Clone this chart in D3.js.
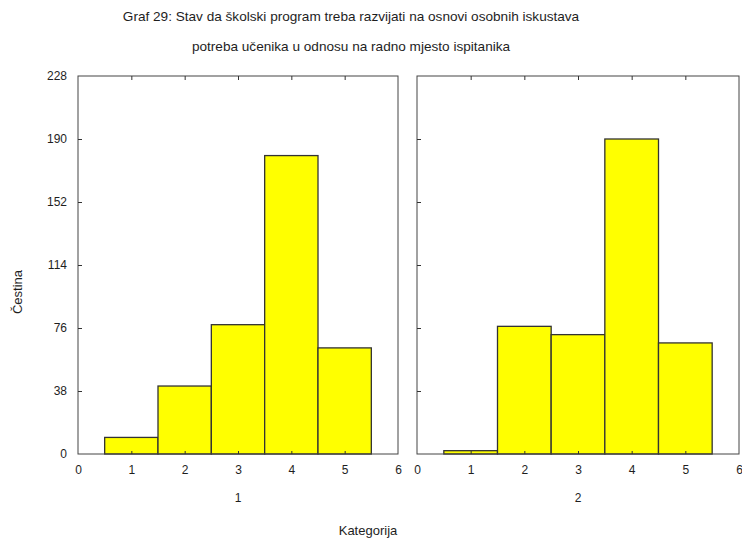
<!DOCTYPE html>
<html lang="hr">
<head>
    <meta charset="UTF-8">
    <title>Graf 29</title>
    <style>
        body { margin: 0; background: #fff; }
        svg text { font-family: "Liberation Sans", Arial, sans-serif; fill: #1e1e1e; }
        .tick line { stroke: #333; }
        .domain { display: none; }
    </style>
</head>
<body>
    <div id="chart"></div>

    <script src="https://d3js.org/d3.v7.min.js"></script>
    <script>
        const w = 742;
        const h = 538;

        const titleLines = ['Graf 29: Stav da školski program treba razvijati na osnovi osobnih iskustava',
                            'potreba učenika u odnosu na radno mjesto ispitanika'];
        const categories = [1, 2, 3, 4, 5];
        const panelNames = ['1', '2'];
        const group1 = [10, 41, 78, 180, 64];
        const group2 = [2, 77, 72, 190, 67];
        const yTicks = [0, 38, 76, 114, 152, 190, 228];
        const xTicks = [0, 1, 2, 3, 4, 5, 6];

        const panels = [
            {name: panelNames[0], values: group1, left: 78, right: 398},
            {name: panelNames[1], values: group2, left: 417, right: 739}
        ];
        const plotTop = 76, plotBottom = 454;

        const svg = d3.select('#chart')
            .append('svg')
            .attr('width', w)
            .attr('height', h);

        svg.selectAll('text.title')
            .data(titleLines)
            .enter()
            .append('text')
            .attr('class', 'title')
            .attr('x', 351)
            .attr('y', (d, i) => 21 + i * 30)
            .attr('text-anchor', 'middle')
            .style('font-size', '13.6px')
            .text(d => d);

        const yScale = d3.scaleLinear()
            .domain([0, 228])
            .range([plotBottom, plotTop]);

        panels.forEach((p, pi) => {
            const xScale = d3.scaleLinear()
                .domain([0, 6])
                .range([p.left, p.right]);

            const g = svg.append('g');

            // bars
            g.selectAll('rect.bar')
                .data(p.values)
                .enter()
                .append('rect')
                .attr('class', 'bar')
                .attr('x', (d, i) => xScale(categories[i] - 0.5))
                .attr('width', (d, i) => xScale(categories[i] + 0.5) - xScale(categories[i] - 0.5))
                .attr('y', d => yScale(d))
                .attr('height', d => yScale(0) - yScale(d))
                .attr('fill', '#ffff00')
                .attr('stroke', '#333')
                .attr('stroke-width', 1.3);

            // frame
            g.append('rect')
                .attr('x', p.left)
                .attr('y', plotTop)
                .attr('width', p.right - p.left)
                .attr('height', plotBottom - plotTop)
                .attr('fill', 'none')
                .attr('stroke', '#444')
                .attr('stroke-width', 1);

            // bottom axis: labels outside, ticks inward
            g.append('g')
                .attr('transform', `translate(0, ${plotBottom})`)
                .call(d3.axisBottom(xScale).tickValues(xTicks).tickSize(0).tickPadding(11).tickFormat(d3.format('d')))
                .selectAll('text')
                .style('font-size', '12px');
            g.append('g')
                .attr('transform', `translate(0, ${plotBottom})`)
                .call(d3.axisTop(xScale).tickValues(xTicks.slice(1, -1)).tickSize(3).tickFormat(''));
            g.append('g')
                .attr('transform', `translate(0, ${plotTop})`)
                .call(d3.axisBottom(xScale).tickValues(xTicks.slice(1, -1)).tickSize(4).tickFormat(''));

            // left axis ticks inward
            g.append('g')
                .attr('transform', `translate(${p.left}, 0)`)
                .call(d3.axisRight(yScale).tickValues(yTicks.slice(1, -1)).tickSize(4).tickFormat(''));
            if (pi === 0) {
                g.append('g')
                    .attr('transform', `translate(${p.left}, 0)`)
                    .call(d3.axisLeft(yScale).tickValues(yTicks).tickSize(0).tickPadding(11).tickFormat(d3.format('d')))
                    .selectAll('text')
                    .style('font-size', '12px');
            }

            g.append('text')
                .attr('x', (p.left + p.right) / 2)
                .attr('y', 502)
                .attr('text-anchor', 'middle')
                .style('font-size', '12px')
                .text(p.name);
        });

        svg.append('text')
            .attr('x', 368)
            .attr('y', 535)
            .attr('text-anchor', 'middle')
            .style('font-size', '13px')
            .text('Kategorija');

        svg.append('text')
            .attr('transform', 'translate(22, 292) rotate(-90)')
            .attr('text-anchor', 'middle')
            .style('font-size', '13px')
            .text('Čestina');
    </script>
</body>
</html>
